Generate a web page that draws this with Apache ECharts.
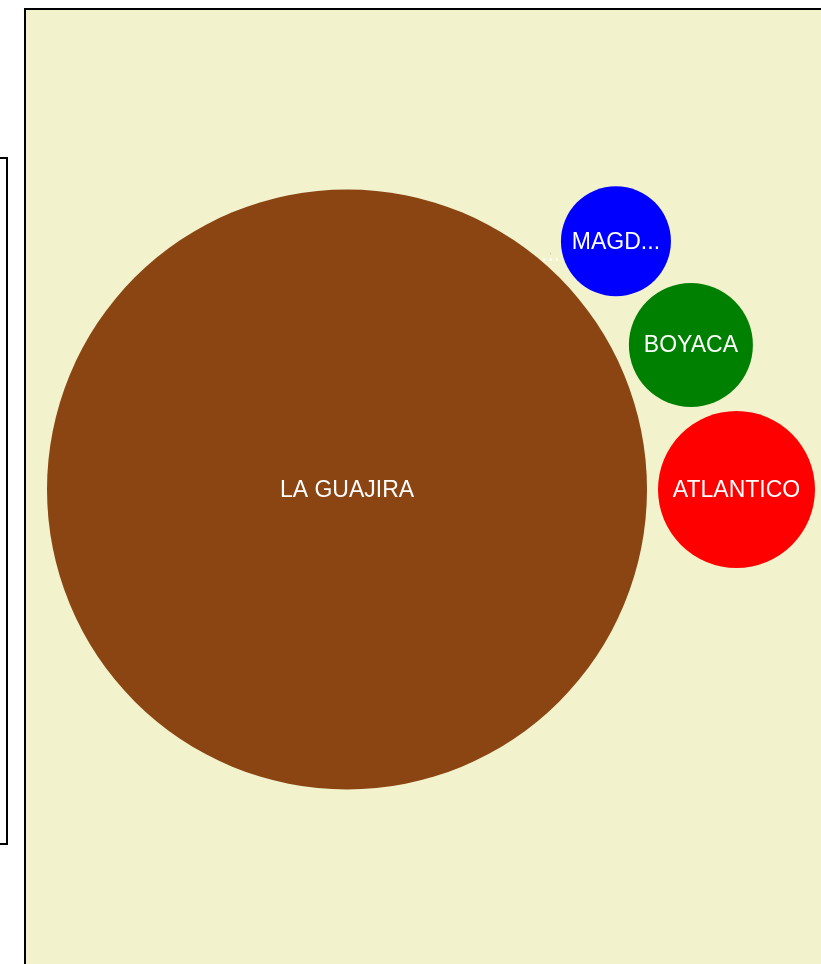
<!DOCTYPE html>
<html>
<head>
<meta charset="utf-8">
<script src="https://cdn.jsdelivr.net/npm/echarts@6/dist/echarts.min.js"></script>
<style>
  html, body { margin: 0; padding: 0; background: #fff; }
  #chart { width: 821px; height: 964px; }
</style>
</head>
<body>
<div id="chart"></div>
<script>
// data
const names = ['LA GUAJIRA', 'ATLANTICO', 'BOYACA', 'MAGDALENA', 'CESAR']
const values = [360000, 24650, 15380, 12100, 1]
const colors = ['#8B4513', '#FF0000', '#008000', '#0000FF', '#999999']

const MAX_R = 300      // radius of the largest bubble, px
const GAP = 11         // space between bubbles, px
const FONT_SIZE = 23
const FONT_FAMILY = '"Liberation Sans", Arial, sans-serif'

// radius from value (area ~ value)
const maxV = Math.max(...values)
const radius = v => MAX_R * Math.sqrt(v / maxV)

// circle tangent to A and B (with gap); returns both candidates
function tangent(A, B, r) {
  const da = A.r + r + GAP, db = B.r + r + GAP
  const dx = B.x - A.x, dy = B.y - A.y
  const d = Math.hypot(dx, dy)
  const a = (da * da - db * db + d * d) / (2 * d)
  const h = Math.sqrt(Math.max(0, da * da - a * a))
  const mx = A.x + a * dx / d, my = A.y + a * dy / d
  return [
    { x: mx + h * dy / d, y: my - h * dx / d, r },
    { x: mx - h * dy / d, y: my + h * dx / d, r },
  ]
}

// simple packing: largest in the middle, the rest wound around it
function pack() {
  const order = values.map((v, i) => i).sort((a, b) => values[b] - values[a])
  const out = []
  order.forEach((idx, k) => {
    const r = radius(values[idx])
    let c
    if (k === 0) c = { x: 0, y: 0, r }
    else if (k === 1) c = { x: out[0].r + r + GAP, y: 0, r }
    else if (k === 2) {
      const [p, q] = tangent(out[0], out[1], r)
      c = p.y < q.y ? p : q   // above
    } else {
      const prev = out[k - 1], prev2 = out[k - 2]
      const [p, q] = tangent(out[0], prev, r)
      const dp = Math.hypot(p.x - prev2.x, p.y - prev2.y)
      const dq = Math.hypot(q.x - prev2.x, q.y - prev2.y)
      c = dp > dq ? p : q
    }
    c.idx = idx
    out.push(c)
  })
  return out
}

// label fitted to the bubble, keeping the ellipsis
const ctx = document.createElement('canvas').getContext('2d')
ctx.font = FONT_SIZE + 'px ' + FONT_FAMILY
function fitLabel(text, maxW) {
  if (ctx.measureText(text).width <= maxW) return text
  let n = text.length
  while (n > 0 && ctx.measureText(text.slice(0, n) + '...').width > maxW) n--
  return text.slice(0, n) + '...'
}

const circles = pack()
const seriesData = circles.map(c => ({
  value: [c.x, c.y],
  name: names[c.idx],
  symbolSize: c.r * 2,
  itemStyle: { color: colors[c.idx], opacity: 1 },
  label: { formatter: fitLabel(names[c.idx], c.r * 2 * 0.85) },
}))

const chart = echarts.init(document.getElementById('chart'), null, { renderer: 'canvas' })
chart.setOption({
  animation: false,
  backgroundColor: '#ffffff',
  graphic: [
    {
      type: 'rect', z: 0,
      shape: { x: 25, y: 9, width: 830, height: 990 },
      style: { fill: '#F2F2CC', stroke: '#000', lineWidth: 2 },
    },
    {
      type: 'rect', z: 0,
      shape: { x: -100, y: 158, width: 107, height: 686 },
      style: { fill: '#ffffff', stroke: '#000', lineWidth: 2 },
    },
  ],
  grid: { left: 0, right: 0, top: 0, bottom: 0 },
  xAxis: { type: 'value', min: -347, max: 474, show: false },
  yAxis: { type: 'value', min: -489.5, max: 474.5, inverse: true, show: false },
  series: [{
    type: 'scatter',
    symbol: 'circle',
    z: 5,
    data: seriesData,
    itemStyle: { opacity: 1 },
    label: {
      show: true,
      position: 'inside',
      color: '#fff',
      fontSize: FONT_SIZE,
      fontFamily: FONT_FAMILY,
      offset: [0, 1],
    },
    emphasis: { disabled: true },
  }],
})
</script>
</body>
</html>
